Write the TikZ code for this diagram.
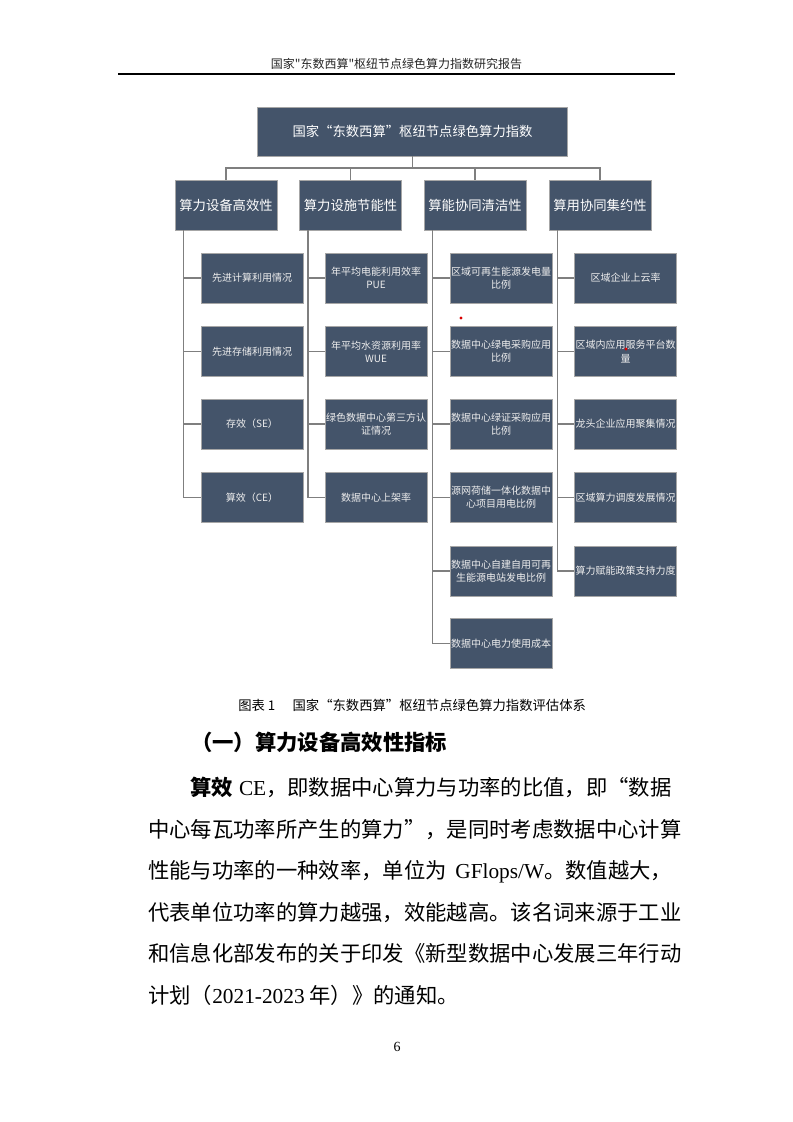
\documentclass[tikz,border=0pt]{standalone}
\usepackage{fontspec}
\setmainfont{Liberation Serif}
\newfontfamily\cjk{Noto Sans CJK SC}
\newfontfamily\lat{Liberation Serif}
\XeTeXlinebreaklocale "zh"
\XeTeXlinebreakskip=0pt plus 4pt minus 2pt
\usetikzlibrary{calc}
\definecolor{boxfill}{HTML}{44546A}
\definecolor{boxline}{HTML}{A6A6A6}
\definecolor{linegray}{HTML}{7F7F7F}
\definecolor{leaftext}{HTML}{EEEEEE}
\tikzset{
  box/.style={draw=boxline, fill=boxfill, text=white, line width=0.6pt,
    font=\cjk\fontsize{10}{12}\selectfont, minimum width=76.5pt,
    minimum height=37.5pt, inner sep=0pt, align=center},
  leaf/.style={box, text=leaftext, font=\cjk\fontsize{7.5}{9.8}\selectfont},
  conn/.style={draw=linegray, line width=1.1pt},
  body/.style={font=\cjk\fontsize{16}{19}\selectfont, inner sep=0pt, anchor=base west},
  reddot/.style={fill=red!85!black}
}
\begin{document}
\begin{tikzpicture}[x=0.75pt,y=-0.75pt]
\useasboundingbox (0,0) rectangle (793,1122);
\fill[white] (0,0) rectangle (793,1122);

% header
\node[font=\cjk\fontsize{9}{11}\selectfont, text=black!85, inner sep=0pt] (hdr) at (396.5,64) {国家"东数西算"枢纽节点绿色算力指数研究报告};
\coordinate (hl) at (118,74);
\coordinate (hr) at (675,74);
\draw[line width=0.9pt] (hl) -- (hr);

% top
\node[box, minimum width=233pt, minimum height=36.75pt] (top) at (412.5,131.5) {国家“东数西算”枢纽节点绿色算力指数};

% level 2
\node[box] (b1) at (226,205) {算力设备高效性};
\node[box] (b2) at (350.5,205) {算力设施节能性};
\node[box] (b3) at (475,205) {算能协同清洁性};
\node[box] (b4) at (600,205) {算用协同集约性};

\coordinate (bus) at (412.5,168);
\draw[conn] (top.south) -- (bus);
\draw[conn] (b1.north) |- (bus) -| (b4.north);
\draw[conn] (b2.north) -- (b2.north |- bus);
\draw[conn] (b3.north) -- (b3.north |- bus);

% column 1
\node[leaf] (c1r1) at (252,278) {先进计算利用情况};
\node[leaf] (c1r2) at (252,351.5) {先进存储利用情况};
\node[leaf] (c1r3) at (252,424) {存效（SE）};
\node[leaf] (c1r4) at (252,497.5) {算效（CE）};

% column 2
\node[leaf] (c2r1) at (376,278) {年平均电能利用效率\\PUE};
\node[leaf] (c2r2) at (376,351.5) {年平均水资源利用率\\WUE};
\node[leaf] (c2r3) at (376,424) {绿色数据中心第三方认\\证情况};
\node[leaf] (c2r4) at (376,497.5) {数据中心上架率};

% column 3
\node[leaf] (c3r1) at (501,278) {区域可再生能源发电量\\比例};
\node[leaf] (c3r2) at (501,351.5) {数据中心绿电采购应用\\比例};
\node[leaf] (c3r3) at (501,424) {数据中心绿证采购应用\\比例};
\node[leaf] (c3r4) at (501,497.5) {源网荷储一体化数据中\\心项目用电比例};
\node[leaf] (c3r5) at (501,571) {数据中心自建自用可再\\生能源电站发电比例};
\node[leaf] (c3r6) at (501,643.5) {数据中心电力使用成本};

% column 4
\node[leaf] (c4r1) at (625.5,278) {区域企业上云率};
\node[leaf] (c4r2) at (625.5,351.5) {区域内应用服务平台数\\量};
\node[leaf] (c4r3) at (625.5,424) {龙头企业应用聚集情况};
\node[leaf] (c4r4) at (625.5,497.5) {区域算力调度发展情况};
\node[leaf] (c4r5) at (625.5,571) {算力赋能政策支持力度};

% trunks
\coordinate (t1) at ($(b1.south west)+(9,0)$);
\coordinate (t2) at ($(b2.south west)+(9,0)$);
\coordinate (t3) at ($(b3.south west)+(9,0)$);
\coordinate (t4) at ($(b4.south west)+(9,0)$);
\draw[conn] (t1) |- (c1r4.west);
\draw[conn] (t2) |- (c2r4.west);
\draw[conn] (t3) |- (c3r6.west);
\draw[conn] (t4) |- (c4r5.west);
\foreach \r in {1,2,3}{
  \draw[conn] (t1 |- c1r\r.west) -- (c1r\r.west);
  \draw[conn] (t2 |- c2r\r.west) -- (c2r\r.west);
}
\foreach \r in {1,...,5}{
  \draw[conn] (t3 |- c3r\r.west) -- (c3r\r.west);
}
\foreach \r in {1,...,4}{
  \draw[conn] (t4 |- c4r\r.west) -- (c4r\r.west);
}

% red dots
\fill[reddot] (461,318) circle (1.2pt);
\fill[reddot] (626,349) circle (1.2pt);

% caption
\node[font=\cjk\fontsize{10}{12}\selectfont, anchor=west, inner sep=0pt] (cap) at (238,705) {图表 1\hspace{1.3em}国家“东数西算”枢纽节点绿色算力指数评估体系};

% heading
\node[font=\cjk\bfseries\fontsize{16}{19}\selectfont, anchor=west, inner sep=0pt] (head) at (191,742) {（一）算力设备高效性指标};

% body
\node[body] (l1) at (190,795) {\makebox[361pt][s]{{\bfseries 算效}\ {\lat CE}，即数据中心算力与功率的比值，即“数据}};
\node[body] (l2) at (148,837) {\makebox[393pt][s]{中心每瓦功率所产生的算力”，是同时考虑数据中心计算}};
\node[body] (l3) at (148,878) {\makebox[393pt][s]{性能与功率的一种效率，单位为\ {\lat GFlops/W}。数值越大，}};
\node[body] (l4) at (148,920) {\makebox[393pt][s]{代表单位功率的算力越强，效能越高。该名词来源于工业}};
\node[body] (l5) at (148,961) {\makebox[393pt][s]{和信息化部发布的关于印发《新型数据中心发展三年行动}};
\node[body] (l6) at (148,1003) {计划（{\lat 2021-2023} 年）》的通知。};

% page number
\node[font=\lat\fontsize{10.5}{12}\selectfont, inner sep=0pt] (pg) at (397,1047) {6};
\end{tikzpicture}
\end{document}
